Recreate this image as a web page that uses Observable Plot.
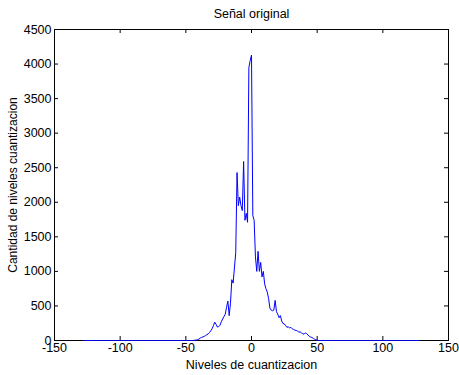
<!DOCTYPE html>
<html>
<head>
<meta charset="utf-8">
<script src="https://cdn.jsdelivr.net/npm/d3@7"></script>
<script src="https://cdn.jsdelivr.net/npm/@observablehq/plot@0.6"></script>
<style>
  html, body { margin: 0; padding: 0; background: #fff; }
</style>
</head>
<body>
<div id="chart"></div>
<script>
const titleText = "Señal original";
const xLabel = "Niveles de cuantizacion";
const yLabel = "Cantidad de niveles cuantizacion";
const xTicks = [-150, -100, -50, 0, 50, 100, 150];
const yTicks = [0, 500, 1000, 1500, 2000, 2500, 3000, 3500, 4000, 4500];

// quantization levels -128 .. 127
const levels = d3.range(-128, 128);
// counts per level
const counts = [
  0,0,0,0,0,0,0,0,0,0,
  0,0,0,0,0,0,0,0,0,0,
  0,0,0,0,0,0,0,0,0,0,
  0,0,0,0,0,0,0,0,0,0,
  0,0,0,0,0,0,0,0,0,0,
  0,0,0,0,0,0,0,0,0,0,
  0,0,0,0,0,0,0,0,0,0,
  0,0,0,0,0,0,0,0,0,0,
  0,0,0,
  // -45 .. -36
  0,2,4,8,12,20,35,45,52,60,
  // -35 .. -26
  72,85,95,115,140,170,215,265,235,195,
  // -25 .. -16
  200,220,270,310,345,380,480,570,360,540,
  // -15 .. -6
  880,830,1050,1270,2430,1950,2075,1950,1880,2590,
  // -5 .. 4
  1740,1840,1710,3950,4050,4130,1810,1740,1210,1000,
  // 5 .. 14
  1290,1000,1130,920,1000,820,750,700,610,470,
  // 15 .. 24
  440,430,440,580,420,380,330,360,280,245,
  // 25 .. 34
  240,215,190,200,180,190,170,160,150,145,
  // 35 .. 44
  140,120,125,110,100,90,110,100,80,60,
  // 45 .. 50
  50,45,30,20,10,4,
  // 51 .. 127
  0,0,0,0,0,0,0,0,0,0,
  0,0,0,0,0,0,0,0,0,0,
  0,0,0,0,0,0,0,0,0,0,
  0,0,0,0,0,0,0,0,0,0,
  0,0,0,0,0,0,0,0,0,0,
  0,0,0,0,0,0,0,0,0,0,
  0,0,0,0,0,0,0,0,0,0,
  0,0,0,0,0,0,0
];

const data = levels.map((l, i) => ({level: l, count: counts[i]}));

const W = 459, H = 375;
const mL = 54, mR = 11, mT = 29, mB = 35;
const frameW = W - mL - mR, frameH = H - mT - mB;
const tickLen = 4;
const fs = 12.5;

const chart = Plot.plot({
  width: W,
  height: H,
  marginLeft: mL,
  marginRight: mR,
  marginTop: mT,
  marginBottom: mB,
  style: {fontFamily: "'Liberation Sans', Arial, sans-serif", fontSize: fs + "px", color: "#000", background: "#fff", overflow: "visible"},
  x: {domain: [-150, 150]},
  y: {domain: [0, 4500]},
  marks: [
    Plot.axisX({ticks: xTicks, tickSize: 0, tickPadding: 3, tickFormat: d => String(d), label: null, fontSize: fs}),
    Plot.axisY({ticks: yTicks, tickSize: 0, tickPadding: 3, tickFormat: d => String(d), label: null, fontSize: fs}),
    Plot.tickX(xTicks, {x: d => d, stroke: "#000", insetTop: frameH - tickLen}),
    Plot.tickX(xTicks, {x: d => d, stroke: "#000", insetBottom: frameH - tickLen}),
    Plot.tickY(yTicks, {y: d => d, stroke: "#000", insetRight: frameW - tickLen}),
    Plot.tickY(yTicks, {y: d => d, stroke: "#000", insetLeft: frameW - tickLen}),
    Plot.frame({stroke: "#000"}),
    Plot.line(data, {x: "level", y: "count", stroke: "#0000ff", strokeWidth: 1}),
    Plot.text([titleText], {frameAnchor: "top", lineAnchor: "middle", dy: -16, fontSize: fs, fill: "#000"}),
    Plot.text([xLabel], {frameAnchor: "bottom", lineAnchor: "middle", dy: 24, fontSize: fs, fill: "#000"}),
    Plot.text([yLabel], {frameAnchor: "left", textAnchor: "middle", lineAnchor: "middle", dx: -41.5, rotate: -90, fontSize: 12, fill: "#000"})
  ]
});
document.getElementById("chart").appendChild(chart);
</script>
</body>
</html>
